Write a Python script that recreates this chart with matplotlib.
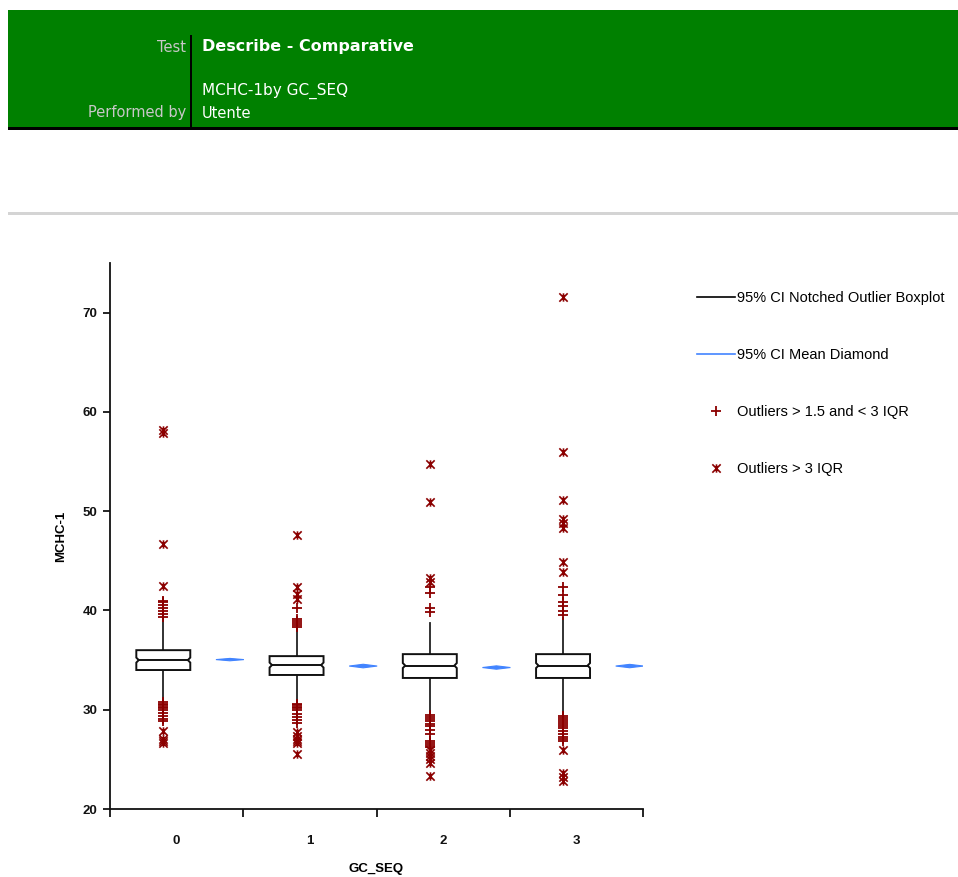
import matplotlib
matplotlib.use("Agg")
import matplotlib.pyplot as plt
from matplotlib.patches import Rectangle, Polygon
from matplotlib.lines import Line2D
from matplotlib.path import Path

# ---------------- data ----------------
groups = ["0", "1", "2", "3"]
q1 = [34.0, 33.5, 33.2, 33.2]
med = [35.0, 34.5, 34.45, 34.45]
q3 = [36.0, 35.4, 35.6, 35.6]
whislo = [31.0, 30.8, 29.8, 29.6]
whishi = [39.0, 38.1, 38.7, 39.2]
ci_lo = [34.75, 34.25, 34.2, 34.2]
ci_hi = [35.25, 34.75, 34.7, 34.7]
means = [35.05, 34.4, 34.25, 34.4]
mean_ci = [0.12, 0.18, 0.17, 0.17]

mild_out = [
    [39.3, 39.6, 39.9, 40.2, 40.5, 40.9, 41.0,
     30.8, 30.6, 30.5, 30.3, 30.2, 30.0, 29.7, 29.4, 29.1, 28.9],
    [38.3, 38.5, 38.7, 38.9, 39.1, 40.2,
     30.6, 30.5, 30.3, 30.2, 30.0, 29.6, 29.3, 29.0, 28.7],
    [39.8, 40.2, 41.8, 42.4,
     29.5, 29.3, 29.1, 28.9, 28.6, 28.4, 28.0, 27.6, 26.8, 26.6, 26.4, 26.2],
    [39.5, 39.9, 40.4, 40.9, 41.6, 42.4,
     29.4, 29.2, 29.0, 28.8, 28.6, 28.4, 28.2, 27.9, 27.6, 27.3, 27.1, 26.9],
]
extreme_out = [
    [42.5, 46.7, 57.9, 58.2, 27.9, 27.1, 26.8, 26.6],
    [41.2, 41.7, 42.4, 47.6, 27.8, 27.4, 27.1, 26.8, 26.6, 25.5],
    [42.9, 43.3, 50.9, 54.8, 25.9, 25.6, 25.3, 25.0, 24.6, 23.3],
    [43.9, 44.9, 48.3, 48.8, 49.2, 51.1, 56.0, 71.6, 25.9, 23.6, 23.2, 22.8],
]

legend_labels = ["95% CI Notched Outlier Boxplot", "95% CI Mean Diamond",
                 "Outliers > 1.5 and < 3 IQR", "Outliers > 3 IQR"]

# ---------------- figure ----------------
W, H = 958, 877
fig = plt.figure(figsize=(W / 100, H / 100), dpi=100)
fig.patch.set_facecolor("white")


def fx(x):
    return x / W


def fy(y):
    return 1 - y / H


green = "#008000"
fig.add_artist(Rectangle((fx(8), fy(128)), fx(950), 118 / H, transform=fig.transFigure,
                         facecolor=green, edgecolor="none", zorder=0))
fig.add_artist(Rectangle((fx(8), fy(130)), fx(950), 3 / H, transform=fig.transFigure,
                         facecolor="black", edgecolor="none", zorder=1))
fig.add_artist(Rectangle((fx(189.5), fy(128)), 2.5 / W, 93 / H, transform=fig.transFigure,
                         facecolor="black", edgecolor="none", zorder=1))
fig.add_artist(Rectangle((fx(8), fy(214.5)), fx(950), 2 / H, transform=fig.transFigure,
                         facecolor="#d4d4d4", edgecolor="none", zorder=1))

hfont = ["DejaVu Sans"]
fig.text(fx(186), fy(47), "Test", ha="right", va="center", color="#c8c8c8",
         fontsize=10.5, family=hfont)
fig.text(fx(202), fy(47), "Describe - Comparative", ha="left", va="center", color="white",
         fontsize=11.5, fontweight="bold", family=hfont)
fig.text(fx(202), fy(91), "MCHC-1by GC_SEQ", ha="left", va="center", color="white",
         fontsize=11, family=hfont)
fig.text(fx(186), fy(113), "Performed by", ha="right", va="center", color="#c8c8c8",
         fontsize=10.5, family=hfont)
fig.text(fx(202), fy(113), "Utente", ha="left", va="center", color="white",
         fontsize=10.5, family=hfont)

# ---------------- axes ----------------
ax = fig.add_axes([fx(110), fy(809), (643 - 110) / W, (809 - 263) / H])
ax.set_xlim(0, 4)
ax.set_ylim(20, 75)
for s in ["top", "right"]:
    ax.spines[s].set_visible(False)
for s in ["left", "bottom"]:
    ax.spines[s].set_linewidth(1.3)
    ax.spines[s].set_color("#111111")

box_w = 0.405
ind = box_w * 0.045
dia_w = 0.21
star_path = Path([(-1, -1), (1, 1), (-1, 1), (1, -1), (0, -1), (0, 1)],
                 [Path.MOVETO, Path.LINETO, Path.MOVETO, Path.LINETO, Path.MOVETO, Path.LINETO])
red = "#8b0000"
blue = "#4284ff"

for i in range(len(groups)):
    x = i + 0.4
    L, R = x - box_w / 2, x + box_w / 2
    # whiskers
    ax.plot([x, x], [q3[i], whishi[i]], color="#222222", lw=1.3, zorder=2)
    ax.plot([x, x], [q1[i], whislo[i]], color="#222222", lw=1.3, zorder=2)
    # notched box
    verts = [(L, q1[i]), (R, q1[i]), (R, ci_lo[i]), (R - ind, med[i]), (R, ci_hi[i]),
             (R, q3[i]), (L, q3[i]), (L, ci_hi[i]), (L + ind, med[i]), (L, ci_lo[i])]
    ax.add_patch(Polygon(verts, closed=True, facecolor="white", edgecolor="#111111",
                         lw=1.4, zorder=3))
    ax.plot([L + ind, R - ind], [med[i], med[i]], color="#111111", lw=1.4, zorder=4)
    # outliers
    ax.plot([x] * len(mild_out[i]), mild_out[i], linestyle="none", marker="+",
            markersize=7, mew=1.3, color=red, zorder=5)
    ax.plot([x] * len(extreme_out[i]), extreme_out[i], linestyle="none", marker=star_path,
            markersize=6, mew=1.2, color=red, zorder=5)
    # mean diamond
    xd = i + 0.9
    dv = [(xd - dia_w / 2, means[i]), (xd, means[i] + mean_ci[i]),
          (xd + dia_w / 2, means[i]), (xd, means[i] - mean_ci[i])]
    ax.add_patch(Polygon(dv, closed=True, facecolor=blue, edgecolor=blue, lw=0.8, zorder=3))

ax.set_yticks([20, 30, 40, 50, 60, 70])
ax.set_xticks([0, 1, 2, 3, 4])
ax.set_xticklabels([])
ax.set_xticks([i + 0.5 for i in range(len(groups))], minor=True)
ax.set_xticklabels(groups, minor=True)
ax.tick_params(axis="x", which="minor", length=0, pad=19)
ax.tick_params(axis="x", which="major", length=6, width=1.2, direction="out")
ax.tick_params(axis="y", length=5, width=1.2, direction="out", pad=4)
for lab in ax.get_yticklabels() + ax.get_xticklabels(minor=True):
    lab.set_fontsize(9.5)
    lab.set_fontweight("bold")
    lab.set_family(["Liberation Sans", "DejaVu Sans"])
    lab.set_color("#111111")

ax.set_ylabel("MCHC-1", fontsize=9.5, fontweight="bold", family=["Liberation Sans"], labelpad=11)
ax.set_xlabel("GC_SEQ", fontsize=9.5, fontweight="bold", family=["Liberation Sans"], labelpad=11)

handles = [
    Line2D([], [], color="black", lw=1.2),
    Line2D([], [], color=blue, lw=1.2),
    Line2D([], [], color=red, linestyle="none", marker="+", markersize=7, mew=1.3),
    Line2D([], [], color=red, linestyle="none", marker=star_path, markersize=6, mew=1.2),
]
fig.legend(handles, legend_labels, loc="upper left", bbox_to_anchor=(fx(691), fy(285)),
           frameon=False, prop={"family": "Liberation Sans", "size": 10.5},
           labelspacing=2.95, handlelength=2.6, handletextpad=0.15, borderaxespad=0)

fig.savefig("out.png", dpi=100, facecolor="white")
